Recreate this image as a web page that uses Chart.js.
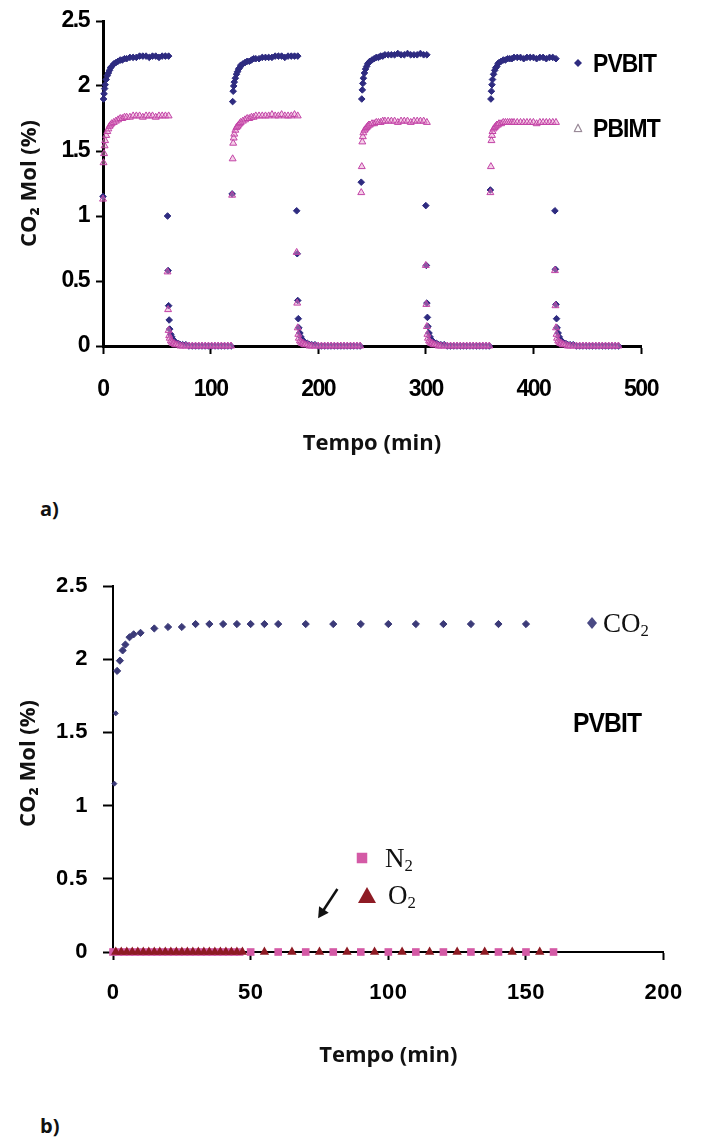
<!DOCTYPE html>
<html>
<head>
<meta charset="utf-8">
<title>CO2 Mol (%)</title>
<script src="https://cdn.jsdelivr.net/npm/chart.js@4.4.1/dist/chart.umd.min.js"></script>
<style>
  html, body { margin: 0; padding: 0; background: #fff; }
  body { width: 702px; height: 1146px; position: relative; overflow: hidden; }
  canvas { position: absolute; left: 0; }
  #chartA { top: 0; }
  #chartB { top: 540px; }
  .txt { position: absolute; white-space: nowrap; line-height: 1; transform: translateY(-50%); color: #000; }
  .txt sub { font-size: 0.62em; vertical-align: -0.28em; line-height: 0; }
  .panel { font: bold 20px "Open Sans", sans-serif; color: #111; }
  .narrow { font: bold 26px "Liberation Sans", sans-serif; letter-spacing: -1px; transform: translateY(-50%) scaleX(0.88); transform-origin: left center; }
  .serif { font: 27px "Liberation Serif", "Times New Roman", serif; color: #111; }
  .mk { position: absolute; transform: translate(-50%, -50%); }
</style>
</head>
<body>
<canvas id="chartA" width="702" height="470"></canvas>
<canvas id="chartB" width="702" height="560"></canvas>

<!-- legend, panel a -->
<svg class="mk" style="left:578px;top:63px" width="8" height="8" viewBox="0 0 8 8"><path d="M4 0L8 4L4 8L0 4Z" fill="#2e2b80"/></svg>
<div class="txt narrow" style="left:593px;top:63px">PVBIT</div>
<svg class="mk" style="left:578px;top:128px" width="9" height="9" viewBox="0 0 9 9"><path d="M4.5 0.8L8.3 8.2L0.7 8.2Z" fill="none" stroke="#9a8a98" stroke-width="1.2"/></svg>
<div class="txt narrow" style="left:593px;top:128px">PBIMT</div>
<div class="txt panel" style="left:40px;top:508px">a)</div>

<!-- legend, panel b -->
<svg class="mk" style="left:592px;top:623px" width="10" height="12" viewBox="0 0 10 12"><path d="M5 0L10 6L5 12L0 6Z" fill="#4a4a84"/></svg>
<div class="txt serif" style="left:603px;top:623px">CO<sub>2</sub></div>
<div class="txt narrow" style="left:573px;top:723px;font-size:28px">PVBIT</div>
<svg class="mk" style="left:362px;top:858px" width="11" height="11" viewBox="0 0 11 11"><rect x="0" y="0" width="11" height="11" fill="#d45aa6"/></svg>
<div class="txt serif" style="left:385px;top:858px">N<sub>2</sub></div>
<svg class="mk" style="left:367px;top:895px" width="18" height="16" viewBox="0 0 18 16"><path d="M9 0L18 16L0 16Z" fill="#8e1b24"/></svg>
<div class="txt serif" style="left:388px;top:895px">O<sub>2</sub></div>
<div class="txt panel" style="left:40px;top:1125px">b)</div>

<script>
// ---- panel a: four adsorption / desorption cycles (minutes, CO2 mol %) ----
const riseStarts = [0, 120, 240, 360];
const fallStarts = [60, 180, 300, 420];
const riseOffsets = [0, 0.5, 1, 1.5, 2, 3, 4, 5, 6, 7, 8, 10, 12, 14, 16, 18, 20, 22, 25, 28, 31, 34, 37, 40, 43, 46, 49, 52, 55, 58, 61];
const fallOffsets = [0, 0.5, 1, 1.5, 2, 3, 4, 5, 6, 7, 8, 10, 12, 14, 17, 20, 23, 26, 29, 32, 35, 38, 41, 44, 47, 50, 53, 56, 59];

const pvbitRise1 = [1.15, 1.90, 1.94, 1.98, 2.01, 2.05, 2.08, 2.10, 2.12, 2.14, 2.15, 2.17, 2.18, 2.19, 2.20, 2.20, 2.21, 2.21, 2.22, 2.22, 2.22, 2.23, 2.23, 2.23, 2.22, 2.23, 2.23, 2.22, 2.23, 2.23, 2.23];
const pvbitRise2 = [1.17, 1.88, 1.96, 2.00, 2.03, 2.06, 2.09, 2.11, 2.13, 2.14, 2.16, 2.17, 2.18, 2.19, 2.19, 2.20, 2.21, 2.21, 2.21, 2.22, 2.22, 2.22, 2.22, 2.23, 2.23, 2.23, 2.22, 2.23, 2.23, 2.23, 2.23];
const pvbitRise3 = [1.26, 1.90, 1.97, 2.02, 2.06, 2.10, 2.13, 2.15, 2.17, 2.18, 2.19, 2.20, 2.21, 2.22, 2.22, 2.23, 2.23, 2.24, 2.24, 2.24, 2.24, 2.25, 2.24, 2.24, 2.25, 2.24, 2.24, 2.24, 2.25, 2.24, 2.24];
const pvbitRise4 = [1.20, 1.90, 1.96, 2.01, 2.05, 2.09, 2.12, 2.14, 2.15, 2.17, 2.18, 2.19, 2.20, 2.20, 2.21, 2.21, 2.21, 2.22, 2.22, 2.22, 2.21, 2.22, 2.22, 2.22, 2.21, 2.22, 2.22, 2.21, 2.22, 2.22, 2.21];

const pvbitFall1 = [1.00, 0.58, 0.31, 0.20, 0.13, 0.09, 0.07, 0.05, 0.04, 0.03, 0.02, 0.02, 0.01, 0.01, 0.01, 0, 0, 0, 0, 0, 0, 0, 0, 0, 0, 0, 0, 0, 0];
const pvbitFall2 = [1.04, 0.71, 0.35, 0.21, 0.14, 0.10, 0.07, 0.05, 0.04, 0.03, 0.02, 0.02, 0.01, 0.01, 0.01, 0, 0, 0, 0, 0, 0, 0, 0, 0, 0, 0, 0, 0, 0];
const pvbitFall3 = [1.08, 0.62, 0.33, 0.22, 0.15, 0.10, 0.07, 0.05, 0.04, 0.03, 0.02, 0.02, 0.01, 0.01, 0.01, 0, 0, 0, 0, 0, 0, 0, 0, 0, 0, 0, 0, 0, 0];
const pvbitFall4 = [1.04, 0.59, 0.32, 0.21, 0.14, 0.10, 0.07, 0.05, 0.04, 0.03, 0.02, 0.02, 0.01, 0.01, 0.01, 0, 0, 0, 0, 0, 0, 0, 0, 0, 0, 0, 0, 0, 0];

const pbimtRise1 = [1.13, 1.41, 1.48, 1.54, 1.58, 1.62, 1.65, 1.67, 1.69, 1.70, 1.71, 1.72, 1.73, 1.74, 1.75, 1.75, 1.76, 1.76, 1.76, 1.77, 1.77, 1.77, 1.76, 1.77, 1.77, 1.77, 1.76, 1.77, 1.77, 1.77, 1.77];
const pbimtRise2 = [1.16, 1.44, 1.56, 1.60, 1.63, 1.66, 1.68, 1.69, 1.70, 1.71, 1.72, 1.73, 1.74, 1.75, 1.75, 1.76, 1.76, 1.77, 1.77, 1.77, 1.77, 1.77, 1.78, 1.77, 1.77, 1.78, 1.77, 1.77, 1.77, 1.78, 1.77];
const pbimtRise3 = [1.18, 1.38, 1.57, 1.61, 1.64, 1.66, 1.67, 1.68, 1.69, 1.70, 1.70, 1.71, 1.71, 1.72, 1.72, 1.72, 1.73, 1.73, 1.73, 1.73, 1.73, 1.72, 1.73, 1.73, 1.73, 1.72, 1.73, 1.73, 1.73, 1.73, 1.72];
const pbimtRise4 = [1.18, 1.38, 1.58, 1.62, 1.65, 1.67, 1.68, 1.69, 1.70, 1.70, 1.71, 1.71, 1.72, 1.72, 1.72, 1.72, 1.72, 1.72, 1.72, 1.72, 1.72, 1.72, 1.72, 1.72, 1.71, 1.72, 1.72, 1.72, 1.72, 1.72, 1.72];

const pbimtFall1 = [0.57, 0.28, 0.12, 0.08, 0.06, 0.04, 0.03, 0.02, 0.02, 0.01, 0.01, 0.01, 0, 0, 0, 0, 0, 0, 0, 0, 0, 0, 0, 0, 0, 0, 0, 0, 0];
const pbimtFall2 = [0.72, 0.33, 0.14, 0.09, 0.06, 0.04, 0.03, 0.02, 0.02, 0.01, 0.01, 0.01, 0, 0, 0, 0, 0, 0, 0, 0, 0, 0, 0, 0, 0, 0, 0, 0, 0];
const pbimtFall3 = [0.62, 0.32, 0.15, 0.09, 0.06, 0.04, 0.03, 0.02, 0.02, 0.01, 0.01, 0.01, 0, 0, 0, 0, 0, 0, 0, 0, 0, 0, 0, 0, 0, 0, 0, 0, 0];
const pbimtFall4 = [0.58, 0.31, 0.14, 0.09, 0.06, 0.04, 0.03, 0.02, 0.02, 0.01, 0.01, 0.01, 0, 0, 0, 0, 0, 0, 0, 0, 0, 0, 0, 0, 0, 0, 0, 0, 0];

const timeTicksA = { min: 0, max: 500, step: 100 };
const molTicks = { min: 0, max: 2.5, step: 0.5 };

// ---- panel b: PVBIT single run, CO2 / N2 / O2 ----
const co2Time = [0.5, 1.0, 1.5, 2.5, 3.5, 4.5, 6, 7.5, 10, 15, 20, 25, 30, 35, 40, 45, 50, 55, 60, 70, 80, 90, 100, 110, 120, 130, 140, 150];
const co2Mol  = [1.15, 1.63, 1.92, 1.99, 2.06, 2.10, 2.15, 2.17, 2.18, 2.21, 2.22, 2.22, 2.24, 2.24, 2.24, 2.24, 2.24, 2.24, 2.24, 2.24, 2.24, 2.24, 2.24, 2.24, 2.24, 2.24, 2.24, 2.24];
const n2Time = [0, 2, 4, 6, 8, 10, 12, 14, 16, 18, 20, 22, 24, 26, 28, 30, 32, 34, 36, 38, 40, 42, 44, 46, 50, 60, 70, 80, 90, 100, 110, 120, 130, 140, 150, 160];
const n2Mol  = [0, 0, 0, 0, 0, 0, 0, 0, 0, 0, 0, 0, 0, 0, 0, 0, 0, 0, 0, 0, 0, 0, 0, 0, 0, 0, 0, 0, 0, 0, 0, 0, 0, 0, 0, 0];
const o2Time = [1, 3, 5, 7, 9, 11, 13, 15, 17, 19, 21, 23, 25, 27, 29, 31, 33, 35, 37, 39, 41, 43, 45, 47, 55, 65, 75, 85, 95, 105, 115, 125, 135, 145, 155];
const o2Mol  = [0, 0, 0, 0, 0, 0, 0, 0, 0, 0, 0, 0, 0, 0, 0, 0, 0, 0, 0, 0, 0, 0, 0, 0, 0, 0, 0, 0, 0, 0, 0, 0, 0, 0, 0];
const timeTicksB = { min: 0, max: 200, step: 50 };
// arrow note pointing at the N2 / O2 baseline (time, mol %)
const arrowFrom = [81.5, 0.43];
const arrowTo = [74.5, 0.23];

// ---------------------------------------------------------------
function cyclePoints(starts, offsets, cycles) {
  const pts = [];
  cycles.forEach((vals, c) => vals.forEach((v, i) => pts.push({ x: starts[c] + offsets[i], y: v })));
  return pts;
}
function pairPoints(xs, ys) { return xs.map((x, i) => ({ x: x, y: ys[i] })); }

const pvbitPts = cyclePoints(riseStarts, riseOffsets, [pvbitRise1, pvbitRise2, pvbitRise3, pvbitRise4])
  .concat(cyclePoints(fallStarts, fallOffsets, [pvbitFall1, pvbitFall2, pvbitFall3, pvbitFall4]));
const pbimtPts = cyclePoints(riseStarts, riseOffsets, [pbimtRise1, pbimtRise2, pbimtRise3, pbimtRise4])
  .concat(cyclePoints(fallStarts, fallOffsets, [pbimtFall1, pbimtFall2, pbimtFall3, pbimtFall4]));

Chart.defaults.color = '#000';
const titleFont = { family: '"Open Sans", sans-serif', weight: 'bold', size: 22, lineHeight: 1.2 };
const molLabel = v => String(Math.round(v * 10) / 10);

// tick labels may be drawn with tighter letter spacing
const tickSpacing = {
  id: 'tickSpacing',
  beforeDraw(chart, args, opts) {
    Object.values(chart.scales).forEach(s => {
      if (s.$spaced) return;
      const base = s.drawLabels.bind(s);
      s.drawLabels = function (area) {
        const c = this.ctx, prev = c.letterSpacing;
        c.letterSpacing = opts.spacing || '0px';
        base(area);
        c.letterSpacing = prev;
      };
      s.$spaced = true;
    });
  }
};

function axisSet(o) {
  return {
    x: {
      type: 'linear', min: o.xt.min, max: o.xt.max,
      ticks: { stepSize: o.xt.step, padding: o.xPad, font: o.tickFont, color: '#000' },
      grid: { drawOnChartArea: false, drawTicks: true, tickLength: 8, tickWidth: 2, tickColor: '#000' },
      border: { display: true, color: '#000', width: o.lw },
      title: { display: true, text: 'Tempo (min)', color: '#111', font: titleFont, padding: { top: 0, bottom: o.xTitlePad } },
      afterFit: s => { s.height = o.xH; }
    },
    y: {
      type: 'linear', min: molTicks.min, max: molTicks.max,
      ticks: { stepSize: molTicks.step, padding: o.yPad, font: o.tickFont, color: '#000', callback: molLabel },
      grid: { drawOnChartArea: false, drawTicks: true, tickLength: o.yTick, tickWidth: 2, tickColor: '#000' },
      border: { display: true, color: '#000', width: o.lw },
      title: { display: true, text: o.yTitle, color: '#111', font: titleFont, padding: { top: o.yTitlePad, bottom: 0 } },
      afterFit: s => { s.width = o.yW; }
    }
  };
}

new Chart(document.getElementById('chartA'), {
  type: 'scatter',
  data: {
    datasets: [
      { label: 'PBIMT', data: pbimtPts, pointStyle: 'triangle', pointRadius: 4, borderWidth: 1,
        borderColor: '#c243a6', backgroundColor: 'rgba(232,150,205,0.45)', order: 0, clip: false },
      { label: 'PVBIT', data: pvbitPts, pointStyle: 'rectRot', pointRadius: 3.3, borderWidth: 1,
        borderColor: '#2e2b80', backgroundColor: '#2e2b80', order: 1, clip: false }
    ]
  },
  options: {
    responsive: false, animation: false, devicePixelRatio: 1,
    layout: { padding: { top: 21, right: 61, left: 0, bottom: 0 } },
    plugins: { legend: { display: false }, tooltip: { enabled: false }, tickSpacing: { spacing: '-1.5px' } },
    scales: axisSet({
      xt: timeTicksA, lw: 3, xPad: 22, yPad: 7, yTick: 7, xH: 124, yW: 103, xTitlePad: 13, yTitlePad: 17,
      yTitle: 'CO\u2082 Mol (%)',
      tickFont: { family: '"Liberation Sans", Arial, sans-serif', weight: 'bold', size: 23, lineHeight: 1.2 }
    })
  },
  plugins: [tickSpacing]
});

const arrowNote = {
  id: 'arrowNote',
  afterDatasetsDraw(chart, args, opts) {
    const { ctx, scales: { x, y } } = chart;
    const x1 = x.getPixelForValue(opts.from[0]), y1 = y.getPixelForValue(opts.from[1]);
    const x2 = x.getPixelForValue(opts.to[0]), y2 = y.getPixelForValue(opts.to[1]);
    const ang = Math.atan2(y2 - y1, x2 - x1);
    ctx.save();
    ctx.strokeStyle = '#111'; ctx.fillStyle = '#111'; ctx.lineWidth = 2.5;
    ctx.beginPath(); ctx.moveTo(x1, y1); ctx.lineTo(x2 - 7 * Math.cos(ang), y2 - 7 * Math.sin(ang)); ctx.stroke();
    ctx.beginPath();
    ctx.moveTo(x2, y2);
    ctx.lineTo(x2 - 12 * Math.cos(ang - 0.5), y2 - 12 * Math.sin(ang - 0.5));
    ctx.lineTo(x2 - 12 * Math.cos(ang + 0.5), y2 - 12 * Math.sin(ang + 0.5));
    ctx.closePath(); ctx.fill();
    ctx.restore();
  }
};

new Chart(document.getElementById('chartB'), {
  type: 'scatter',
  data: {
    datasets: [
      { label: 'CO2', data: pairPoints(co2Time, co2Mol), pointStyle: 'rectRot',
        pointRadius: ctx => (ctx.dataIndex < 2 ? 2.5 : 3.6), borderWidth: 1,
        borderColor: '#3b3a78', backgroundColor: '#3b3a78', order: 0, clip: false },
      { label: 'O2', data: pairPoints(o2Time, o2Mol), pointStyle: 'triangle', pointRadius: 5.4, borderWidth: 0,
        borderColor: '#8e1b24', backgroundColor: '#8e1b24', order: 1, clip: false },
      { label: 'N2', data: pairPoints(n2Time, n2Mol), pointStyle: 'rect', pointRadius: 5.4, borderWidth: 0,
        borderColor: '#d45aa6', backgroundColor: '#d45aa6', order: 2, clip: false }
    ]
  },
  options: {
    responsive: false, animation: false, devicePixelRatio: 1,
    layout: { padding: { top: 46, right: 25, left: 0, bottom: 0 } },
    plugins: { legend: { display: false }, tooltip: { enabled: false }, arrowNote: { from: arrowFrom, to: arrowTo }, tickSpacing: { spacing: '0.5px' } },
    scales: axisSet({
      xt: timeTicksB, lw: 2, xPad: 20, yPad: 15, yTick: 10, xH: 148, yW: 113, xTitlePad: 31, yTitlePad: 16,
      yTitle: '\u2002CO\u2082 Mol (%)',
      tickFont: { family: '"Liberation Sans", Arial, sans-serif', weight: 'bold', size: 22, lineHeight: 1.2 }
    })
  },
  plugins: [arrowNote, tickSpacing]
});
</script>
</body>
</html>
